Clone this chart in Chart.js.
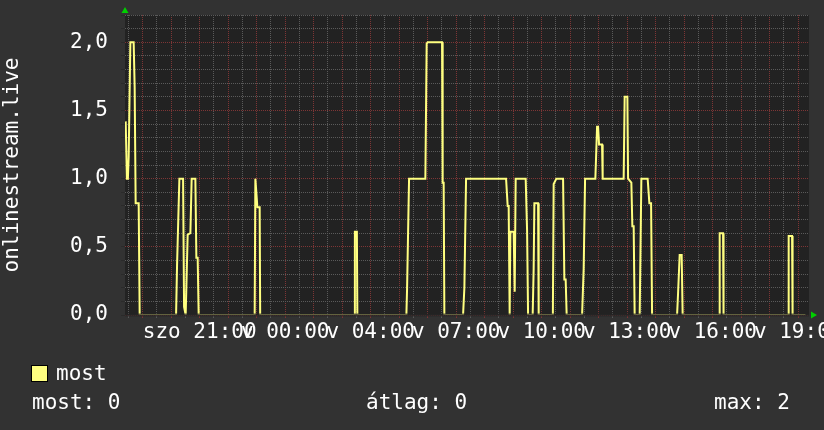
<!DOCTYPE html>
<html><head><meta charset="utf-8">
<script src="https://cdn.jsdelivr.net/npm/chart.js@4/dist/chart.umd.min.js"></script>
<style>html,body{margin:0;padding:0;background:#323232;overflow:hidden}canvas{display:block}</style>
</head><body>
<canvas id="c" width="824" height="430"></canvas>
<script>
// real hours since Saturday 00:00 (DST jump on Sunday)
const hours = [
  18.404,18.446,18.481,18.509,18.568,18.684,18.719,18.754,18.860,18.895,
  20.172,20.207,20.288,20.418,20.453,20.509,20.579,20.674,20.719,20.849,20.884,20.930,20.965,
  22.930,22.954,23.025,23.105,23.123,
  26.421,26.446,26.516,26.533,
  28.253,28.277,28.347,28.919,28.965,29.000,29.505,29.526,29.561,29.586,
  30.242,30.288,30.347,31.751,31.807,31.842,31.877,31.902,32.018,32.053,32.088,32.439,32.488,32.523,
  32.684,32.719,32.744,32.874,32.895,
  33.393,33.421,33.516,33.751,33.796,33.842,33.877,
  34.418,34.474,34.523,34.884,34.944,34.979,35.014,35.119,35.140,35.877,35.912,36.007,36.032,36.147,36.182,36.228,36.263,
  36.439,36.498,36.719,36.779,36.839,36.874,
  37.751,37.786,37.842,37.912,37.947,
  39.228,39.246,39.365,39.382,
  41.649,41.667,41.786,41.804,
  42.253
];
const values = [
  1.42,1.0,1.0,1.16,2.0,2.0,1.67,0.82,0.82,0,
  0,0.37,1.0,1.0,0.06,0,0.59,0.6,1.0,1.0,0.42,0.42,0,
  0,1.0,0.79,0.79,0,
  0,0.61,0.61,0,
  0,0.19,1.0,1.0,1.99,2.0,2.0,0.97,0.97,0,
  0,0.2,1.0,1.0,0.8,0.8,0,0.61,0.61,0.17,1.0,1.0,0.62,0,
  0,0.34,0.82,0.82,0,
  0,0.96,1.0,1.0,0.26,0.26,0,
  0,0.34,1.0,1.0,1.38,1.38,1.25,1.25,1.0,1.0,1.6,1.6,1.0,0.97,0.65,0.65,0,
  0,1.0,1.0,0.82,0.82,0,
  0,0.16,0.44,0.44,0,
  0,0.6,0.6,0,
  0,0.58,0.58,0,
  0
];
const labelHours = [21,24,27,30,33,36,39,42];
const labelTexts = ['szo 21:00','v 00:00','v 04:00','v 07:00','v 10:00','v 13:00','v 16:00','v 19:00'];
const yLabelSteps = [0,5,10,15,20]; // tenths
const seriesName = 'most';
const yTitle = 'onlinestream.live';
const statNames = ['most','átlag','max'];
const statValues = ['0','0','2'];
const xMin = 18.38, xMax = 42.38, yMin = 0, yMax = 2.2;

const FONT = '"DejaVu Sans Mono", monospace';
const GRID_GREY = '#5a5a5a';
const GRID_RED = '#7d3535';

const extras = {
  id: 'extras',
  beforeDraw(chart) {
    const {ctx, chartArea: a} = chart;
    ctx.save();
    ctx.fillStyle = '#222222';
    ctx.fillRect(a.left, a.top, a.right - a.left, a.bottom - a.top);
    ctx.restore();
  },
  afterDatasetsDraw(chart) {
    const {ctx, chartArea: a} = chart;
    ctx.save();
    // x axis drawn over the zero line (dims it, as in the original)
    ctx.fillStyle = 'rgba(38,38,38,0.72)';
    ctx.fillRect(a.left, a.bottom - 1.5, a.right - a.left, 3);
    ctx.restore();
  },
  afterDraw(chart) {
    const {ctx, chartArea: a} = chart;
    ctx.save();
    // arrows
    ctx.fillStyle = '#00d000';
    ctx.beginPath();
    ctx.moveTo(a.left - 3.5, a.top - 2); ctx.lineTo(a.left + 3.5, a.top - 2); ctx.lineTo(a.left, a.top - 8);
    ctx.closePath(); ctx.fill();
    ctx.beginPath();
    ctx.moveTo(a.right + 2, a.bottom - 3.5); ctx.lineTo(a.right + 2, a.bottom + 3.5); ctx.lineTo(a.right + 8, a.bottom);
    ctx.closePath(); ctx.fill();
    // legend
    ctx.fillStyle = '#ffff80';
    ctx.fillRect(32, 366, 15, 15);
    ctx.strokeStyle = '#000';
    ctx.lineWidth = 1;
    ctx.strokeRect(31.5, 365.5, 16, 16);
    ctx.fillStyle = '#ffffff';
    ctx.font = '21px ' + FONT;
    ctx.textBaseline = 'alphabetic';
    ctx.fillText(chart.data.datasets[0].label, 56, 380);
    const xs = [32, 366, 714];
    statNames.forEach((n, i) => ctx.fillText(n + ': ' + statValues[i], xs[i], 409));
    ctx.restore();
  }
};

const xTicks = [];
for (let h = Math.ceil(xMin * 2) / 2; h <= xMax; h += 0.5) xTicks.push({value: h});
const yTicks = [];
for (let t = 0; t <= Math.round(yMax * 10); t++) yTicks.push({value: t / 10});

function noPad(s) { s.paddingLeft = 0; s.paddingRight = 0; s.paddingTop = 0; s.paddingBottom = 0; }

new Chart(document.getElementById('c'), {
  type: 'line',
  data: {
    datasets: [{
      label: seriesName,
      data: hours.map((h, i) => ({x: h, y: values[i]})),
      borderColor: '#ffff80',
      backgroundColor: '#ffff80',
      borderWidth: 2,
      pointRadius: 0,
      tension: 0,
      fill: false
    }]
  },
  options: {
    responsive: false,
    devicePixelRatio: 1,
    animation: false,
    layout: {padding: {left: 0, right: 15, top: 15, bottom: 0}},
    plugins: {legend: {display: false}, tooltip: {enabled: false}},
    scales: {
      x: {
        type: 'linear', min: xMin, max: xMax,
        afterBuildTicks: s => { s.ticks = xTicks.map(t => ({value: t.value})); },
        afterFit: s => { s.height = 115; noPad(s); },
        grid: {
          color: c => Number.isInteger(c.tick.value) ? GRID_RED : GRID_GREY,
          tickColor: c => Number.isInteger(c.tick.value) ? GRID_RED : GRID_GREY,
          lineWidth: 1, tickLength: 3, drawTicks: true
        },
        border: {display: false, dash: [1, 1]},
        ticks: {
          autoSkip: false, maxRotation: 0, minRotation: 0, padding: 2,
          color: '#ffffff', font: {family: FONT, size: 21},
          callback: v => { const i = labelHours.indexOf(Math.round(v * 2) / 2); return i >= 0 ? labelTexts[i] : ''; }
        }
      },
      y: {
        min: yMin, max: yMax,
        afterBuildTicks: s => { s.ticks = yTicks.map(t => ({value: t.value})); },
        afterFit: s => { s.width = 125; noPad(s); },
        grid: {
          color: c => Math.round(c.tick.value * 10) % 5 === 0 ? GRID_RED : GRID_GREY,
          tickColor: '#2a2a2a',
          lineWidth: 1, tickLength: 4, drawTicks: true
        },
        border: {display: false, dash: [1, 1]},
        title: {display: true, text: yTitle, color: '#ffffff', font: {family: FONT, size: 21}, padding: {top: 0, bottom: 0}},
        ticks: {
          autoSkip: false, padding: 13, color: '#ffffff', font: {family: FONT, size: 21},
          callback: v => { const t = Math.round(v * 10); return yLabelSteps.includes(t) ? (t / 10).toFixed(1).replace('.', ',') : ''; }
        }
      }
    }
  },
  plugins: [extras]
});
</script>
</body></html>
